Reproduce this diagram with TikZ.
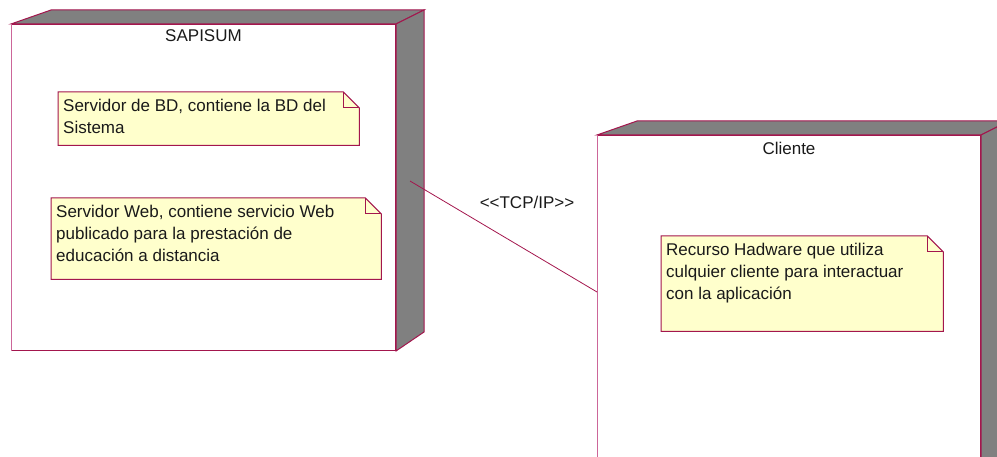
\documentclass[tikz,border=0pt]{standalone}
\usepackage{fontspec}
\setmainfont{Liberation Sans}
\usepackage{xcolor}
\usepackage{tikz}
\usetikzlibrary{calc,positioning}
\definecolor{edge}{HTML}{A3164D}
\definecolor{edgelt}{HTML}{CC6699}
\definecolor{side}{HTML}{808080}
\definecolor{notebg}{HTML}{FFFFCC}
\definecolor{ink}{HTML}{1A1A1A}
\tikzset{
  face/.style={draw=edge, fill=white, line width=1pt, rectangle, inner sep=0pt, anchor=north west},
  depth/.style={draw=edge, fill=side, line width=1pt, line join=miter},
  note/.style={rectangle, inner sep=0pt, anchor=north west},
  noteline/.style={draw=edge, fill=notebg, line width=1pt},
  txt/.style={text=ink, font=\fontsize{17}{22}\selectfont, inner sep=0pt},
  notetxt/.style={txt, anchor=north west, align=left},
  link/.style={draw=edge, line width=0.8pt},
}
\newcommand{\boxdepth}[1]{%
  \draw[depth] (#1.north west) -- ++(40,-14) -- ($(#1.north east)+(28,-14)$) -- (#1.north east) -- cycle;
  \draw[depth] (#1.north east) -- ++(28,-14) -- ($(#1.south east)+(28,-19)$) -- (#1.south east) -- cycle;
  \draw[edgelt, line width=1pt] (#1.north west) -- (#1.south west);}
\newcommand{\notefold}[1]{%
  \filldraw[noteline] (#1.north west) -- ($(#1.north east)+(-16,0)$) -- ($(#1.north east)+(0,16)$)
    -- (#1.south east) -- (#1.south west) -- cycle;
  \draw[noteline, fill=none] ($(#1.north east)+(-16,0)$) -- ($(#1.north east)+(-16,16)$) -- ($(#1.north east)+(0,16)$);}

\begin{document}
\begin{tikzpicture}[x=1pt, y=-1pt]
  \useasboundingbox (0,0) rectangle (997,457);
  \clip (0,0) rectangle (997,457);

  \node[face, minimum width=384pt, minimum height=326pt] (sapisum) at (11,24) {};
  \boxdepth{sapisum}
  \node[txt] (sapisumlbl) at ($(sapisum.north)+(0,12)$) {SAPISUM};

  \node[face, minimum width=383pt, minimum height=400pt] (cliente) at (597,135) {};
  \boxdepth{cliente}
  \node[txt] (clientelbl) at ($(cliente.north)+(0,13)$) {Cliente};

  \node[note, minimum width=301pt, minimum height=53pt] (bd) at (58,92) {};
  \notefold{bd}
  \node[notetxt] (bdtxt) at ($(bd.north west)+(5,7)$) {Servidor de BD, contiene la BD del\\Sistema};

  \node[note, minimum width=330pt, minimum height=81pt] (web) at (51,198) {};
  \notefold{web}
  \node[notetxt] (webtxt) at ($(web.north west)+(5,7)$) {Servidor Web, contiene servicio Web\\publicado para la prestación de\\educación a distancia};

  \node[note, minimum width=282pt, minimum height=95pt] (hw) at (661,236) {};
  \notefold{hw}
  \node[notetxt] (hwtxt) at ($(hw.north west)+(5,7)$) {Recurso Hadware que utiliza\\culquier cliente para interactuar\\con la aplicación};

  \coordinate (tcpa) at ($(sapisum.north east)+(14,157)$);
  \coordinate (tcpb) at ($(cliente.north west)+(0,157)$);
  \draw[link] (tcpa) -- (tcpb);
  \node[txt] (tcp) at (527,202) {<\kern0pt<TCP/IP>\kern0pt>};
\end{tikzpicture}
\end{document}
